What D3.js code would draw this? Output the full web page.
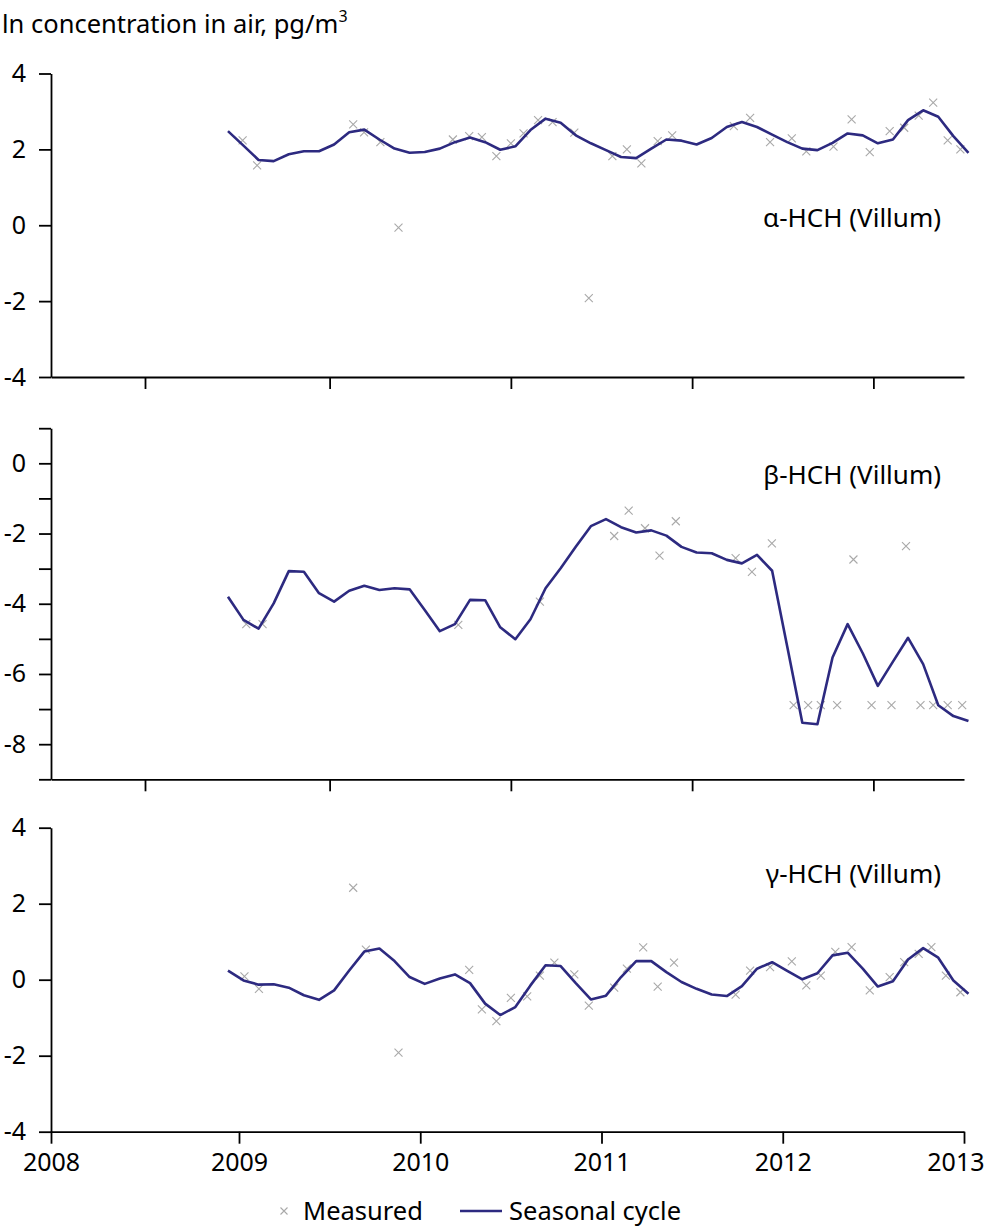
<!DOCTYPE html>
<html>
<head>
<meta charset="utf-8">
<script src="https://cdn.jsdelivr.net/npm/d3@7"></script>
<style>
  body { margin: 0; background: #fff; }
  svg { display: block; font-family: 'Noto Sans', sans-serif; }
</style>
</head>
<body>
<svg id="chart" width="986" height="1227"></svg>
<script>
// monthly seasonal-cycle points, Dec 2008 .. Jan 2013
const months = d3.timeMonth.range(new Date(2008, 11, 1), new Date(2013, 1, 1))

const alphaSeason = [2.48, 2.10, 1.72, 1.69, 1.87, 1.95, 1.95, 2.13, 2.45, 2.52,
    2.26, 2.02, 1.91, 1.93, 2.02, 2.19, 2.31, 2.19, 1.99, 2.08,
    2.51, 2.81, 2.70, 2.37, 2.16, 1.98, 1.80, 1.77, 2.02, 2.26,
    2.23, 2.13, 2.30, 2.59, 2.72, 2.59, 2.39, 2.19, 2.02, 1.98,
    2.17, 2.42, 2.37, 2.16, 2.26, 2.77, 3.03, 2.86, 2.35, 1.91]

const betaSeason = [-3.80, -4.46, -4.71, -3.99, -3.07, -3.09, -3.70, -3.94, -3.63, -3.49,
    -3.61, -3.56, -3.59, -4.18, -4.78, -4.58, -3.89, -3.90, -4.67, -5.01,
    -4.44, -3.56, -2.99, -2.38, -1.79, -1.59, -1.82, -1.97, -1.91, -2.06,
    -2.38, -2.54, -2.56, -2.75, -2.85, -2.61, -3.06, -5.22, -7.39, -7.43,
    -5.53, -4.58, -5.41, -6.34, -5.65, -4.97, -5.72, -6.89, -7.20, -7.34]

const gammaSeason = [0.24, -0.02, -0.13, -0.12, -0.21, -0.41, -0.53, -0.28, 0.24, 0.74,
    0.82, 0.49, 0.07, -0.11, 0.03, 0.14, -0.09, -0.63, -0.93, -0.72,
    -0.15, 0.38, 0.36, -0.09, -0.52, -0.42, 0.07, 0.49, 0.49, 0.20,
    -0.06, -0.24, -0.39, -0.43, -0.17, 0.29, 0.46, 0.23, 0.01, 0.17,
    0.64, 0.71, 0.29, -0.18, -0.04, 0.53, 0.83, 0.58, -0.02, -0.37]

// measured samples: [decimal year, ln value]
const alphaMeasured = [[2009.02, 2.24], [2009.10, 1.58], [2009.63, 2.66], [2009.69, 2.45], [2009.78, 2.19],
    [2009.88, -0.06], [2010.18, 2.26], [2010.27, 2.35], [2010.34, 2.32], [2010.42, 1.82],
    [2010.50, 2.16], [2010.57, 2.42], [2010.65, 2.77], [2010.73, 2.72], [2010.85, 2.44],
    [2010.93, -1.92], [2011.06, 1.82], [2011.14, 2.00], [2011.22, 1.63], [2011.31, 2.22],
    [2011.39, 2.37], [2011.73, 2.61], [2011.82, 2.83], [2011.93, 2.19], [2012.05, 2.29],
    [2012.13, 1.95], [2012.28, 2.07], [2012.38, 2.79], [2012.48, 1.93], [2012.59, 2.48],
    [2012.67, 2.57], [2012.75, 2.89], [2012.83, 3.23], [2012.91, 2.24], [2012.98, 2.00]]

const betaMeasured = [[2009.04, -4.58], [2009.13, -4.58], [2010.21, -4.60], [2010.66, -3.94],
    [2011.07, -2.07], [2011.15, -1.35], [2011.24, -1.85], [2011.32, -2.63], [2011.41, -1.65],
    [2011.74, -2.70], [2011.83, -3.09], [2011.94, -2.28], [2012.06, -6.89], [2012.14, -6.89],
    [2012.21, -6.89], [2012.30, -6.89], [2012.39, -2.74], [2012.49, -6.89], [2012.60, -6.89],
    [2012.68, -2.36], [2012.76, -6.89], [2012.83, -6.89], [2012.91, -6.89], [2012.99, -6.89]]

const gammaMeasured = [[2009.03, 0.09], [2009.11, -0.24], [2009.63, 2.42], [2009.70, 0.79], [2009.88, -1.92],
    [2010.27, 0.26], [2010.34, -0.78], [2010.42, -1.09], [2010.50, -0.48], [2010.59, -0.44],
    [2010.66, 0.11], [2010.74, 0.45], [2010.85, 0.14], [2010.93, -0.68], [2011.07, -0.21],
    [2011.14, 0.29], [2011.23, 0.85], [2011.31, -0.18], [2011.40, 0.45], [2011.74, -0.39],
    [2011.82, 0.24], [2011.93, 0.33], [2012.05, 0.48], [2012.13, -0.15], [2012.21, 0.11],
    [2012.29, 0.73], [2012.38, 0.86], [2012.48, -0.28], [2012.59, 0.07], [2012.67, 0.46],
    [2012.75, 0.68], [2012.82, 0.86], [2012.90, 0.11], [2012.98, -0.33]]

const yearTicks = [2008, 2009, 2010, 2011, 2012, 2013]
const midYearTicks = [2008.5, 2009.5, 2010.5, 2011.5, 2012.5]

const LINE_COLOR = '#2d2a80'
const MARK_COLOR = '#a9a9a9'
const FONT = 'Noto Sans'

const svg = d3.select('#chart')

// polylinear: the original's 2008-2009 gap is a bit wider than the rest
const x = d3.scaleLinear().domain([2008, 2009, 2013]).range([51, 239, 964])

const toYear = d => d.getFullYear() + (d.getMonth() + (d.getDate() + 8) / 30.4) / 12

const panels = [
    { name: 'α-HCH (Villum)', season: alphaSeason, measured: alphaMeasured,
        domain: [-4, 4], range: [377, 73.5], ticks: [-4, -2, 0, 2, 4],
        xticks: midYearTicks, xlabels: false, labelY: 227 },
    { name: 'β-HCH (Villum)', season: betaSeason, measured: betaMeasured,
        domain: [-9, 1], range: [779.3, 428.2], ticks: d3.range(-9, 2),
        xticks: midYearTicks, xlabels: false, labelY: 484 },
    { name: 'γ-HCH (Villum)', season: gammaSeason, measured: gammaMeasured,
        domain: [-4, 4], range: [1131.7, 827.7], ticks: [-4, -2, 0, 2, 4],
        xticks: yearTicks, xlabels: true, labelY: 883 }
]

const cross = 'M-4,-4L4,4M-4,4L4,-4'

panels.forEach(p => {
    const y = d3.scaleLinear().domain(p.domain).range(p.range)
    const g = svg.append('g')

    const yAxis = g.append('g')
        .attr('transform', `translate(${x.range()[0]},0)`)
        .call(d3.axisLeft(y)
            .tickValues(p.ticks)
            .tickSize(12)
            .tickSizeOuter(0)
            .tickPadding(13)
            .tickFormat(d => (d % 2 === 0 ? String(d) : '')))
    yAxis.selectAll('path, line').attr('stroke', '#000').attr('stroke-width', 1.8)
    yAxis.selectAll('text').attr('font-size', 25).attr('font-family', FONT).attr('fill', '#000')

    const xAxis = g.append('g')
        .attr('transform', `translate(0,${p.range[0]})`)
        .call(d3.axisBottom(x)
            .tickValues(p.xticks)
            .tickSize(12)
            .tickSizeOuter(0)
            .tickPadding(10)
            .tickFormat(d => (p.xlabels ? d : '')))
    xAxis.selectAll('path, line').attr('stroke', '#000').attr('stroke-width', 1.8)
    xAxis.selectAll('text').attr('font-size', 25).attr('font-family', FONT).attr('fill', '#000')
    // last year label is pulled in so it stays inside the page, as in the original
    xAxis.selectAll('.tick text').filter(d => d === 2013)
        .attr('text-anchor', 'end')
        .attr('dx', 20)

    g.append('g')
        .selectAll('path')
        .data(p.measured)
        .enter()
        .append('path')
        .attr('d', cross)
        .attr('transform', d => `translate(${x(d[0])},${y(d[1])})`)
        .attr('fill', 'none')
        .attr('stroke', MARK_COLOR)
        .attr('stroke-width', 1.1)

    const line = d3.line()
        .x((d, i) => x(toYear(months[i])))
        .y(d => y(d))

    g.append('path')
        .datum(p.season)
        .attr('d', line)
        .attr('fill', 'none')
        .attr('stroke', LINE_COLOR)
        .attr('stroke-width', 2.6)
        .attr('stroke-linejoin', 'round')

    g.append('text')
        .text(p.name)
        .attr('x', 941)
        .attr('y', p.labelY)
        .attr('text-anchor', 'end')
        .attr('font-size', 26)
        .attr('font-family', FONT)
        .attr('fill', '#000')
})

svg.append('text')
    .html('ln concentration in air, pg/m<tspan font-size="16" dy="-11">3</tspan>')
    .attr('x', 2)
    .attr('y', 33)
    .attr('font-size', 25.5)
    .attr('font-family', FONT)
    .attr('fill', '#000')

// legend
const legend = svg.append('g').attr('transform', 'translate(0,1211)')
legend.append('path')
    .attr('d', 'M-3.5,-3.5L3.5,3.5M-3.5,3.5L3.5,-3.5')
    .attr('transform', 'translate(284,0)')
    .attr('fill', 'none')
    .attr('stroke', MARK_COLOR)
    .attr('stroke-width', 1.1)
legend.append('text')
    .text('Measured')
    .attr('x', 303)
    .attr('y', 9)
    .attr('font-size', 25.5)
    .attr('font-family', FONT)
    .attr('fill', '#000')
legend.append('line')
    .attr('x1', 460).attr('x2', 502)
    .attr('y1', 0).attr('y2', 0)
    .attr('stroke', LINE_COLOR)
    .attr('stroke-width', 2.6)
legend.append('text')
    .text('Seasonal cycle')
    .attr('x', 509)
    .attr('y', 9)
    .attr('font-size', 25.5)
    .attr('font-family', FONT)
    .attr('fill', '#000')
</script>
</body>
</html>
